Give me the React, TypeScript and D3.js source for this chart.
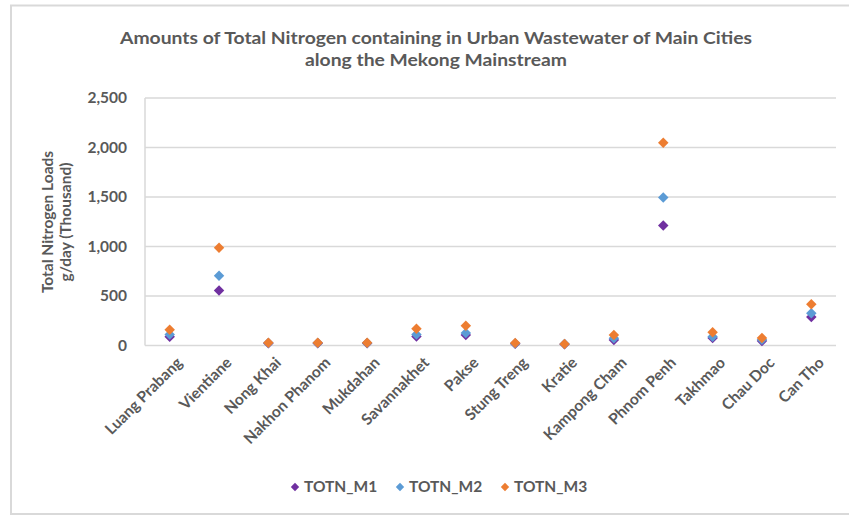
import React from "react";
import * as d3 from "d3";

const cities = [
  "Luang Prabang", "Vientiane", "Nong Khai", "Nakhon Phanom", "Mukdahan",
  "Savannakhet", "Pakse", "Stung Treng", "Kratie", "Kampong Cham",
  "Phnom Penh", "Takhmao", "Chau Doc", "Can Tho",
];
const totnM1 = [88, 555, 22, 22, 22, 92, 106, 18, 12, 55, 1212, 76, 45, 287];
const totnM2 = [112, 705, 25, 25, 25, 112, 126, 20, 14, 73, 1495, 88, 58, 325];
const totnM3 = [160, 988, 28, 28, 28, 170, 200, 25, 16, 106, 2048, 133, 75, 416];
const yTicks = [0, 500, 1000, 1500, 2000, 2500];

const seriesNames = ["TOTN_M1", "TOTN_M2", "TOTN_M3"];
const seriesValues = [totnM1, totnM2, totnM3];
const colors = ["#7030a0", "#5b9bd5", "#ed7d31"];

const W = 849;
const H = 515;
const FONT = "Lato, 'Open Sans', sans-serif";
const GRAY = "#595959";

export default function App() {
  const x = d3.scaleBand<string>().domain(cities).range([145, 836]).padding(0);
  const y = d3.scaleLinear().domain([0, 2500]).range([345.5, 98]);
  const fmt = d3.format(",");
  const diamond = d3.symbol().type(d3.symbolDiamond2).size(70)() as string;
  const cx = (c: string) => (x(c) as number) + x.bandwidth() / 2;

  const legendX = [295, 400, 505];

  return (
    <svg width={W} height={H} style={{ position: "absolute", left: 0, top: 0 }}>
      <rect x={0} y={0} width={W} height={H} fill="#fff" />
      <rect x={11} y={5.5} width={W + 10} height={508.5} fill="none" stroke="#d9d9d9" strokeWidth={2} />
      <g fontFamily={FONT} fontWeight="bold" fill={GRAY}>
        <text x={436} y={44} textAnchor="middle" fontSize={17} textLength={632} lengthAdjust="spacingAndGlyphs">
          Amounts of Total Nitrogen containing in Urban Wastewater of Main Cities
        </text>
        <text x={436} y={66} textAnchor="middle" fontSize={17} textLength={262} lengthAdjust="spacingAndGlyphs">
          along the Mekong Mainstream
        </text>
      </g>
      {yTicks.map((t) => (
        <line key={"g" + t} x1={145} x2={836} y1={y(t)} y2={y(t)} stroke="#d9d9d9" strokeWidth={1.5} />
      ))}
      <line x1={145} x2={145} y1={y(2500)} y2={y(0)} stroke="#d9d9d9" strokeWidth={1.5} />
      <g fontFamily={FONT} fontWeight="bold" fill={GRAY} fontSize={15.5}>
        {yTicks.map((t) => (
          <text key={"t" + t} x={127} y={y(t)} dy="0.35em" textAnchor="end">
            {fmt(t)}
          </text>
        ))}
        <g transform="translate(48,222) rotate(-90)">
          <text x={0} y={0} dy="0.35em" textAnchor="middle">Total Nitrogen Loads</text>
          <text x={0} y={18} dy="0.35em" textAnchor="middle">g/day (Thousand)</text>
        </g>
        {cities.map((c) => (
          <text
            key={"x" + c}
            transform={`translate(${cx(c) + 6},${356}) rotate(-45)`}
            textAnchor="end"
            dy="0.7em"
          >
            {c}
          </text>
        ))}
      </g>
      {seriesValues.map((vals, si) => (
        <g key={"s" + si} fill={colors[si]}>
          {vals.map((v, i) => (
            <path key={i} d={diamond} transform={`translate(${cx(cities[i])},${y(v)})`} />
          ))}
        </g>
      ))}
      <g fontFamily={FONT} fontWeight="bold" fill={GRAY} fontSize={15.5}>
        {seriesNames.map((n, i) => (
          <g key={n} transform={`translate(${legendX[i]},${487})`}>
            <path d={diamond} fill={colors[i]} transform="scale(0.8)" />
            <text x={9} y={0} dy="0.35em">{n}</text>
          </g>
        ))}
      </g>
    </svg>
  );
}
